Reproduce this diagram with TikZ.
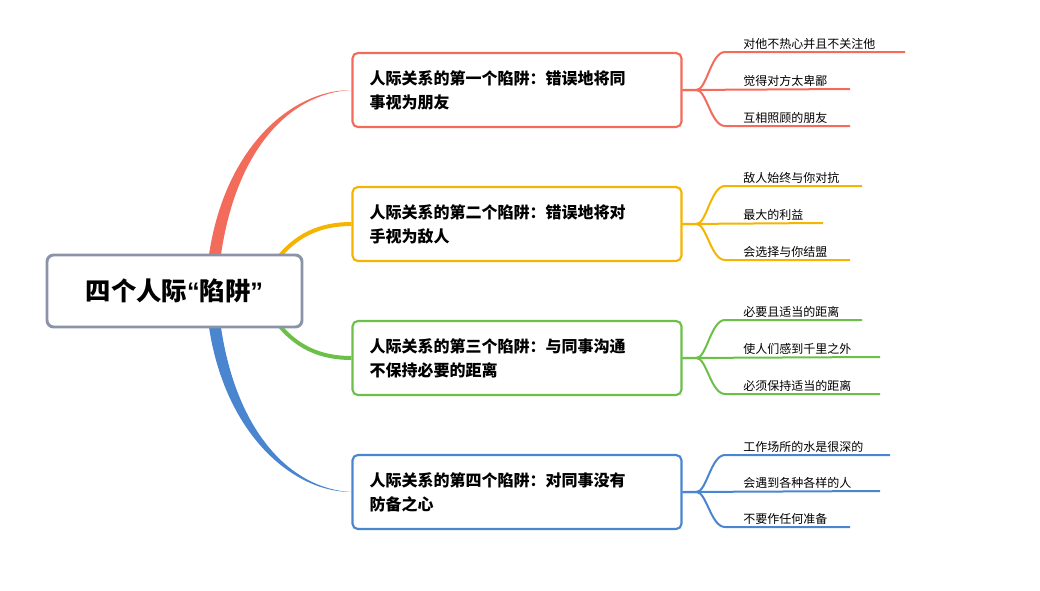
\documentclass[tikz,border=0pt]{standalone}
\usepackage{fontspec}
\setmainfont{Noto Sans CJK SC}
\newfontfamily\latinq{Liberation Sans}
\begin{document}
\begin{tikzpicture}[x=0.75pt,y=-0.75pt,
  rootbox/.style={draw=rootc,line width=2.2pt,rounded corners=5pt,fill=white,minimum width=255*0.75pt,minimum height=72*0.75pt,font=\bfseries\fontsize{19}{24}\selectfont},
  brbox/.style={draw=#1,line width=1.6pt,rounded corners=4pt,fill=white,minimum width=329*0.75pt,minimum height=74*0.75pt,text width=295*0.75pt,align=left,inner xsep=15pt*0.75,font=\bfseries\fontsize{12}{18}\selectfont},
  leaf/.style={anchor=south west,inner sep=1.5pt,font=\fontsize{9}{11}\selectfont},
  conn/.style={draw=#1,line width=1.5pt}]
\definecolor{rootc}{HTML}{8A94A6}
\definecolor{cr}{HTML}{F26B5B}
\definecolor{co}{HTML}{F5B400}
\definecolor{cg}{HTML}{6CC04A}
\definecolor{cb}{HTML}{4A86D0}
\useasboundingbox (0,0) rectangle (1040,590);
\coordinate (rt) at (214,262);
\coordinate (rb) at (214,320);
\coordinate (ot) at (275,262);
\coordinate (gb) at (275,320);
\path (517,90) node[brbox=cr] (b1) {人际关系的第一个陷阱：错误地将同\\事视为朋友};
\path (517,224) node[brbox=co] (b2) {人际关系的第二个陷阱：错误地将对\\手视为敌人};
\path (517,358) node[brbox=cg] (b3) {人际关系的第三个陷阱：与同事沟通\\不保持必要的距离};
\path (517,492) node[brbox=cb] (b4) {人际关系的第四个陷阱：对同事没有\\防备之心};
\fill[cr] (rt) ++(-6,0) .. controls (222,150) and (290,90) .. (b1.west) .. controls (290,93) and (234,150) .. (220,262) -- cycle;
\fill[cb] (rb) ++(-6,0) .. controls (222,430) and (290,492) .. (b4.west) .. controls (290,489) and (234,430) .. (220,320) -- cycle;
\draw[co,line width=3pt] (ot) .. controls (295,235) and (320,224) .. (b2.west);
\draw[cg,line width=3pt] (gb) .. controls (295,347) and (320,358) .. (b3.west);
\node[rootbox] (root) at (174.5,291) {四个人际{\latinq “}陷阱{\latinq ”}};
\foreach \b/\c/\ya/\xa/\yb/\xb/\yc/\xc/\ta/\tb/\tc in {
 b1/cr/52/905/89/850/126/850/对他不热心并且不关注他/觉得对方太卑鄙/互相照顾的朋友,
 b2/co/186/862/223/823/260/850/敌人始终与你对抗/最大的利益/会选择与你结盟,
 b3/cg/320/862/357/880/394/880/必要且适当的距离/使人们感到千里之外/必须保持适当的距离,
 b4/cb/455/890/491/880/527/850/工作场所的水是很深的/会遇到各种各样的人/不要作任何准备}{
 \coordinate (\b a) at (725,\ya); \coordinate (\b ae) at (\xa,\ya);
 \coordinate (\b b) at (725,\yb); \coordinate (\b be) at (\xb,\yb);
 \coordinate (\b c) at (725,\yc); \coordinate (\b ce) at (\xc,\yc);
 \draw[conn=\c] (\b.east) -- ++(14,0) .. controls +(10,0) and +(-14,0) .. (\b a) -- (\b ae);
 \draw[conn=\c] (\b.east) -- (\b be);
 \draw[conn=\c] (\b.east) -- ++(14,0) .. controls +(10,0) and +(-14,0) .. (\b c) -- (\b ce);
 \node[leaf] at ([xshift=16pt*0.75]\b a) {\ta};
 \node[leaf] at ([xshift=16pt*0.75]\b b) {\tb};
 \node[leaf] at ([xshift=16pt*0.75]\b c) {\tc};
}
\end{tikzpicture}
\end{document}
